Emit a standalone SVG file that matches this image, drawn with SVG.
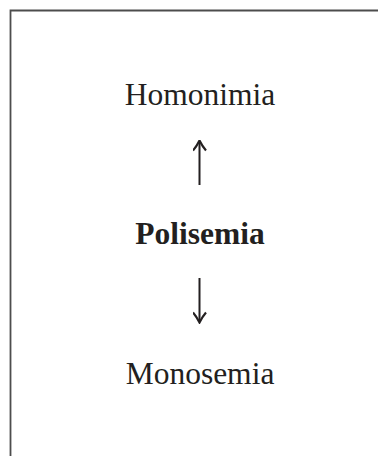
<svg xmlns="http://www.w3.org/2000/svg" width="378" height="456" viewBox="0 0 378 456">
<style>
.t{font-family:"Liberation Serif","Times New Roman",serif;font-size:31.5px;fill:#231f20;text-anchor:middle}
.b{font-weight:bold}
.c{stroke:#231f20;stroke-width:2;fill:none}
</style>
<defs>
<marker id="ah" viewBox="0 0 14 14" refX="12.5" refY="7" markerWidth="14" markerHeight="14" markerUnits="userSpaceOnUse" orient="auto">
<path d="M3,0.5 Q7,4 13,7 Q7,10 3,13.5" fill="none" stroke="#231f20" stroke-width="2.2"/>
</marker>
</defs>
<rect width="378" height="456" fill="#fff"/>
<path d="M10.5,460 V10.5 H380" fill="none" stroke="#4d4d4d" stroke-width="1.8"/>
<g id="homonimia"><text class="t" x="200" y="105">Homonimia</text></g>
<g id="polisemia"><text class="t b" x="200" y="244">Polisemia</text></g>
<g id="monosemia"><text class="t" x="200" y="384">Monosemia</text></g>
<g id="connectors">
<line class="c" x1="199.5" y1="185" x2="199.5" y2="141" marker-end="url(#ah)"/>
<line class="c" x1="199.5" y1="278" x2="199.5" y2="322" marker-end="url(#ah)"/>
</g>
</svg>
